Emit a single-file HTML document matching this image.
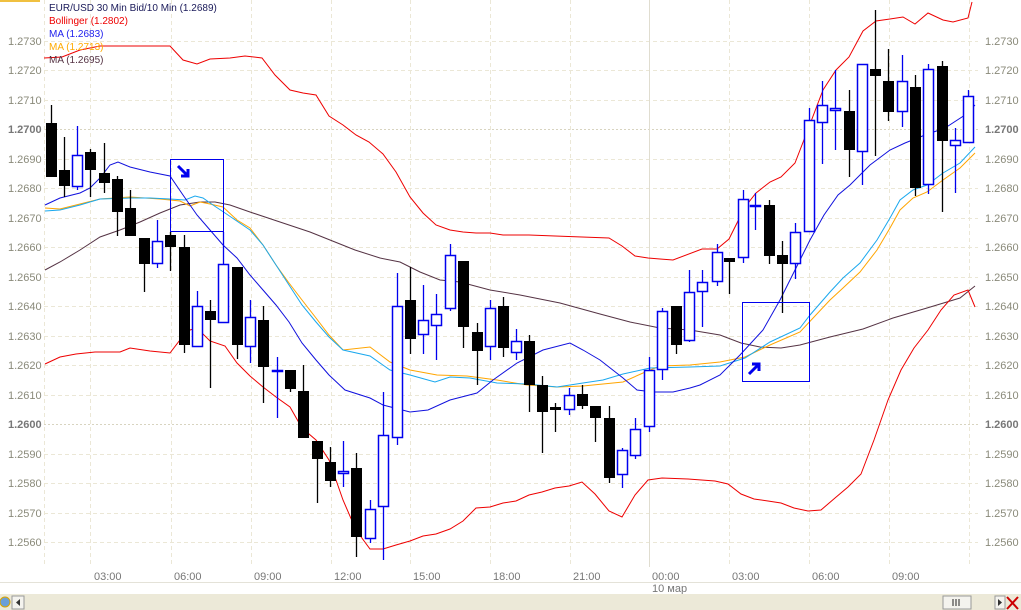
<!DOCTYPE html>
<html><head><meta charset="utf-8"><style>
html,body{margin:0;padding:0;background:#fff;}
svg{display:block;font-family:"Liberation Sans",sans-serif;}
</style></head><body>
<svg id="s" width="1021" height="610" viewBox="0 0 1021 610" xmlns="http://www.w3.org/2000/svg">
<rect x="0" y="0" width="1021" height="610" fill="#fff"/>
<rect x="0" y="0" width="40" height="2" fill="#f0c040"/>
<g id="grid"></g>
<g font-size="11" fill="#8a8a7a">
<text x="8" y="45">1.2730</text><text x="8" y="74">1.2720</text><text x="8" y="104">1.2710</text>
<text x="8" y="133" font-weight="bold" fill="#777">1.2700</text>
<text x="8" y="163">1.2690</text><text x="8" y="192">1.2680</text><text x="8" y="222">1.2670</text>
<text x="8" y="251">1.2660</text><text x="8" y="281">1.2650</text><text x="8" y="310">1.2640</text>
<text x="8" y="340">1.2630</text><text x="8" y="369">1.2620</text><text x="8" y="399">1.2610</text>
<text x="8" y="428" font-weight="bold" fill="#777">1.2600</text>
<text x="8" y="458">1.2590</text><text x="8" y="487">1.2580</text><text x="8" y="517">1.2570</text>
<text x="8" y="546">1.2560</text>
<text x="985" y="45">1.2730</text><text x="985" y="74">1.2720</text><text x="985" y="104">1.2710</text>
<text x="985" y="133" font-weight="bold" fill="#777">1.2700</text>
<text x="985" y="163">1.2690</text><text x="985" y="192">1.2680</text><text x="985" y="222">1.2670</text>
<text x="985" y="251">1.2660</text><text x="985" y="281">1.2650</text><text x="985" y="310">1.2640</text>
<text x="985" y="340">1.2630</text><text x="985" y="369">1.2620</text><text x="985" y="399">1.2610</text>
<text x="985" y="428" font-weight="bold" fill="#777">1.2600</text>
<text x="985" y="458">1.2590</text><text x="985" y="487">1.2580</text><text x="985" y="517">1.2570</text>
<text x="985" y="546">1.2560</text>
</g>
<g font-size="11" fill="#777">
<text x="94" y="580">03:00</text><text x="174" y="580">06:00</text><text x="254" y="580">09:00</text>
<text x="334" y="580">12:00</text><text x="413" y="580">15:00</text><text x="493" y="580">18:00</text>
<text x="573" y="580">21:00</text><text x="652" y="580">00:00</text><text x="732" y="580">03:00</text>
<text x="812" y="580">06:00</text><text x="892" y="580">09:00</text>
<text x="652" y="592">10 мар</text>
</g>
<line x1="0" y1="582.5" x2="1021" y2="582.5" stroke="#e4e2d8"/>
<rect x="0" y="594" width="1021" height="16" fill="#ece9d8"/>
<rect x="12" y="596" width="12" height="13" fill="#f4f3ee" stroke="#999"/>
<path d="M20,599 L16,602.5 L20,606Z" fill="#333"/>
<rect x="943" y="596" width="28" height="13" fill="#f4f3ee" stroke="#999"/>
<path d="M953,599v7M956,599v7M959,599v7" stroke="#222"/>
<rect x="995" y="596" width="10" height="13" fill="#f4f3ee" stroke="#999"/>
<path d="M998,599 L1002,602.5 L998,606Z" fill="#333"/>
<path d="M1007,597 L1018,609 M1018,597 L1007,609" stroke="#c00" stroke-width="2"/>
<circle cx="5" cy="602" r="5" fill="#6a9fd8" stroke="#d9a400"/>
<g id="lines"></g>
<g id="candles"></g>
<rect x="170.5" y="159.5" width="53" height="72" fill="none" stroke="#0000ee" stroke-width="1"/>
<path d="M178,166 L188,176 M188,169 L188,176 L181,176" stroke="#0000ee" stroke-width="3" fill="none"/>
<rect x="742.5" y="302.5" width="67" height="79" fill="none" stroke="#0000ee" stroke-width="1"/>
<path d="M749,374 L759,364 M752,364 L759,364 L759,371" stroke="#0000ee" stroke-width="3" fill="none"/>
<g font-size="10">
<text x="49" y="11" fill="#1a1a5a">EUR/USD 30 Min Bid/10 Min (1.2689)</text>
<text x="49" y="24" fill="#ee0000">Bollinger (1.2802)</text>
<text x="49" y="37" fill="#2222ee">MA (1.2683)</text>
<text x="49" y="50" fill="#ffaa00">MA (1.2713)</text>
<text x="49" y="63" fill="#553344">MA (1.2695)</text>
</g>
</svg>
<script>
var NS="http://www.w3.org/2000/svg";
function el(p,t,a){var e=document.createElementNS(NS,t);for(var k in a)e.setAttribute(k,a[k]);p.appendChild(e);return e;}
var g=document.getElementById("grid");
for(var i=0;i<18;i++){var y=Math.round(41+i*29.47)+0.5;var strong=(i==3||i==13);
 el(g,"line",{x1:44,x2:978,y1:y,y2:y,stroke:strong?"#d8d4c0":"#ebe7d6","stroke-dasharray":strong?"2,2":"4,3"});}
var vx=[44,90,171,251,331,410,490,570,649,729,809,889,969];
vx.forEach(function(x){el(g,"line",{x1:x+0.5,x2:x+0.5,y1:0,y2:567,stroke:x==649?"#e0ddd0":"#ebe7d6","stroke-dasharray":x==649?"":"4,3"});});
var L=document.getElementById("lines");
function pl(c,pts,w){el(L,"polyline",{points:pts,fill:"none",stroke:c,"stroke-width":w||1});}
pl("#553344","45,270 60,262 80,250 100,237 120,230 140,222 160,213 180,205 200,202 215,202 230,205 250,212 280,222 310,232 330,240 355,250 380,258 400,262 420,272 440,280 460,282 490,290 520,295 560,303 600,314 630,322 660,328 690,330 720,335 741,343 760,347 781,348 800,345 830,337 863,329 893,318 927,308 960,298 975,286");
pl("#ffa500","45,208 60,209 80,204 100,199 130,197 160,199 180,201 190,206 200,202 210,204 223,207 237,220 250,228 263,245 276,265 289,283 302,300 316,318 329,335 343,350 370,347 390,362 410,370 437,375 467,376 497,380 527,385 557,387 583,386 603,384 623,382 643,373 660,366 690,365 720,362 745,357 770,345 800,332 830,300 843,288 860,272 877,250 890,228 900,210 913,198 927,192 943,180 960,168 975,153");
pl("#1aa8ee","45,211 60,210 80,205 100,199 130,198 150,198 170,199 185,200 195,196 203,198 213,205 225,213 250,230 263,245 276,265 289,285 302,305 316,322 329,337 343,350 370,356 390,370 410,375 435,382 450,377 470,378 497,383 527,384 557,387 583,383 603,380 623,374 650,368 690,367 720,366 745,358 770,342 800,328 810,315 830,292 843,278 860,263 877,240 890,218 900,200 913,190 927,185 943,173 960,163 975,147");
pl("#1010dd","45,205 60,198 80,193 90,188 100,178 110,165 118,162 130,167 150,172 170,176 183,195 197,215 210,230 223,245 237,258 250,275 263,290 276,305 289,322 302,343 316,360 329,375 345,390 370,398 383,405 410,412 428,410 450,400 477,393 493,380 517,363 543,350 570,343 583,350 600,360 623,378 637,390 653,392 673,392 690,388 700,385 720,375 740,355 763,330 780,300 795,270 810,240 824,215 838,195 850,185 870,165 890,150 905,143 925,135 945,128 965,115 975,105");
pl("#ee0000","44,58 62,57 80,50 100,46 170,46 183,60 197,64 210,59 230,58 245,56 262,58 275,75 290,90 303,93 316,95 329,116 343,125 356,135 369,142 383,154 396,172 410,197 423,213 436,225 450,230 463,232 476,233 490,233 503,235 529,235 555,236 582,237 609,238 622,246 635,256 648,258 660,259 673,260 702,249 717,249 729,239 745,207 756,193 770,182 781,177 795,163 807,132 823,90 836,70 849,57 863,31 876,21 890,19 903,17 915,24 928,13 943,20 953,22 968,18 972,2");
pl("#ee0000","45,364 60,357 76,354 95,352 120,352 130,348 150,351 170,353 183,336 190,330 197,328 210,341 225,346 237,363 250,376 263,387 276,397 290,407 302,428 316,440 329,460 343,500 356,530 370,549 383,549 396,545 410,541 423,536 436,534 450,529 463,521 476,508 490,507 503,503 516,501 529,495 542,492 555,488 569,486 582,482 595,494 609,511 622,517 635,495 648,480 662,478 688,479 715,481 728,484 741,494 754,499 768,501 781,503 794,508 808,511 821,510 835,498 848,487 861,474 874,440 888,400 901,370 914,348 928,330 941,310 954,295 968,290 975,307");
var C=[[51,'k',123,177,105,177],[64,'k',170,186,137,197],[77,'b',155,187,126,190],[90,'k',152,170,149,197],[104,'k',173,183,143,193],[117,'k',179,212,176,236],[130,'k',208,236,190,236],[144,'k',238,264,238,292],[157,'b',241,264,220,268],[170,'k',235,247,232,271],[184,'k',247,345,235,353],[197,'b',306,347,291,347],[210,'k',311,320,300,388],[223,'b',264,323,232,323],[237,'k',267,345,267,359],[250,'b',317,347,300,363],[263,'k',320,367,306,403],[277,'b',370,372,357,418],[290,'k',370,389,370,392],[303,'k',391,438,365,438],[317,'k',441,459,441,503],[330,'k',462,481,447,487],[343,'b',471,474,441,487],[356,'k',468,537,453,557],[370,'b',509,539,500,543],[383,'b',435,507,392,560],[397,'b',306,438,273,445],[410,'k',300,339,267,354],[423,'b',320,335,285,354],[436,'b',314,326,294,360],[450,'b',255,309,244,311],[463,'k',261,327,261,348],[477,'k',332,351,323,385],[490,'b',308,347,300,360],[503,'k',306,348,297,357],[516,'b',341,353,329,360],[529,'k',341,385,335,412],[542,'k',385,412,376,453],[555,'k',407,410,403,432],[569,'b',395,410,388,415],[582,'k',394,406,385,409],[595,'k',406,418,406,442],[609,'k',418,478,406,483],[622,'b',450,475,448,488],[635,'b',429,456,418,459],[649,'b',370,427,357,432],[662,'b',311,370,308,380],[676,'k',306,345,306,354],[689,'b',292,341,270,342],[702,'b',282,292,270,327],[717,'b',252,282,244,286],[729,'k',258,262,258,294],[743,'b',199,258,190,263],[755,'b',205,207,193,230],[769,'k',205,256,200,264],[782,'k',255,264,241,313],[795,'b',232,264,223,279],[809,'b',120,232,108,232],[822,'b',105,123,81,164],[835,'b',108,111,70,150],[849,'k',111,150,90,177],[862,'b',64,152,64,185],[875,'k',69,76,10,156],[888,'k',81,112,49,121],[902,'b',81,112,55,127],[915,'k',87,188,75,196],[928,'b',69,185,64,194],[942,'k',66,141,61,212],[955,'b',140,146,128,193],[968,'b',96,143,90,143]];
var K=document.getElementById("candles");
C.forEach(function(c){var x=c[0],col=c[1]=='k'?'#000':'#0000ee';
 el(K,"line",{x1:x+0.5,x2:x+0.5,y1:c[4],y2:c[5],stroke:col,"stroke-width":1.3});
 if(c[1]=='k') el(K,"rect",{x:x-5,y:c[2],width:11,height:Math.max(2,c[3]-c[2]),fill:"#000"});
 else el(K,"rect",{x:x-4.5,y:c[2]+0.5,width:10,height:Math.max(1,c[3]-c[2]-1),fill:"#fff",stroke:col,"stroke-width":1.5});
});
</script>
</body></html>
